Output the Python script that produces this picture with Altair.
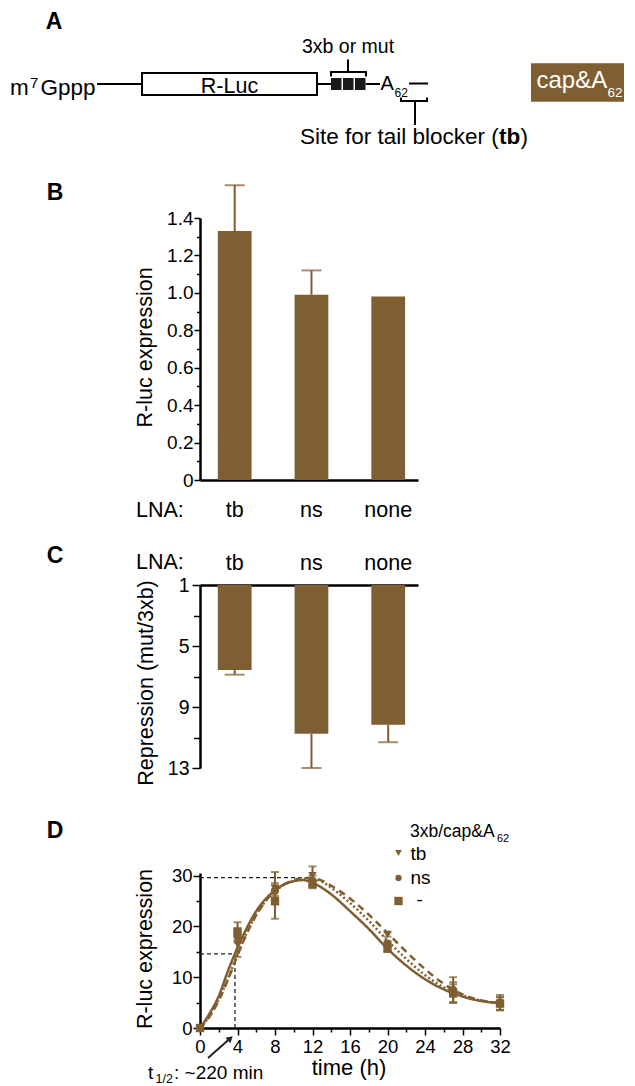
import altair as alt
import pandas as pd

BROWN = "#7f5e31"
FONT = "Liberation Sans"

# ---------------- data ----------------
# Panel B: R-luc expression with LNA
lna = ["tb", "ns", "none"]
b_expr = [1.33, 0.99, 0.98]
b_err = [0.245, 0.13, 0.0]

# Panel C: repression (mut/3xb)
c_rep = [6.57, 10.76, 10.17]
c_err = [0.31, 2.24, 1.14]

# Panel D: time course
series = ["tb", "ns", "-"]
d_time = [0, 4, 8, 12, 20, 27, 32]
d_tb = [0, 16.5, 27.5, 30.0, 18.4, 7.0, 4.8]
d_tb_err = [0, 2.5, 3.2, 1.8, 0.4, 2.0, 1.2]
d_ns = [0, 18.0, 27.0, 29.0, 16.6, 7.5, 5.0]
d_ns_err = [0, 1.2, 1.0, 1.0, 0.5, 2.5, 1.5]
d_mi = [0, 19.0, 25.0, 28.3, 15.6, 6.8, 4.8]
d_mi_err = [0, 1.8, 3.5, 0.8, 0.4, 1.8, 1.3]

curve_time = [0, 1, 2, 3, 4, 5, 6, 7, 8, 9, 10, 11, 12, 13, 14, 16, 18, 20, 22, 24, 26, 28, 30, 32]
curve_tb = [0, 2.2, 5.4, 9.6, 14.3, 18.6, 22.2, 25.0, 27.0, 28.3, 29.1, 29.5, 29.5, 29.0, 28.0,
            25.5, 22.3, 18.7, 15.0, 11.6, 8.7, 6.6, 5.4, 4.9]
curve_ns = [0, 2.3, 5.6, 9.8, 14.5, 18.8, 22.3, 25.0, 26.9, 28.2, 28.9, 29.3, 29.3, 28.8, 27.6,
            24.6, 21.1, 17.2, 13.6, 10.4, 8.0, 6.4, 5.4, 4.9]
curve_mi = [0, 2.8, 6.3, 11.3, 15.8, 19.7, 23.0, 25.4, 27.1, 28.3, 28.9, 29.1, 28.6, 27.6, 26.3,
            23.0, 19.5, 15.6, 12.3, 9.6, 7.6, 6.2, 5.3, 4.9]

peak_time, peak_val = 12, 29.6
half_time, half_val = 3.73, 14.6


# ---------------- helpers ----------------
def ptxt(x, y, s, size, weight="normal", align="left", baseline="alphabetic",
         color="black", angle=None):
    kw = dict(fontSize=size, fontWeight=weight, align=align, baseline=baseline, color=color)
    if angle is not None:
        kw["angle"] = angle
    return alt.Chart(pd.DataFrame({"s": [s]})).mark_text(**kw).encode(
        x=alt.value(x), y=alt.value(y), text="s:N")


xsA = alt.Scale(domain=[200, 620], nice=False, zero=False)
ysA = alt.Scale(domain=[10, 113], nice=False, zero=False, reverse=True)


def ax(f):
    return alt.X(f, scale=xsA, axis=None, title=None)


def ay(f):
    return alt.Y(f, scale=ysA, axis=None, title=None)


def atxt(x, y, s, size, weight="normal", align="left", color="black"):
    return alt.Chart(pd.DataFrame({"x": [x], "y": [y], "s": [s]})).mark_text(
        fontSize=size, fontWeight=weight, align=align, baseline="alphabetic", color=color
    ).encode(x=ax("x:Q"), y=ay("y:Q"), text="s:N")


# ---------------- panel A (schematic) ----------------
rl_box = pd.DataFrame({"x": [142], "x2": [317], "y": [73], "y2": [95]})
sites = pd.DataFrame({"x": [331, 343, 355], "x2": [341.5, 353.5, 365.5],
                      "y": [78, 78, 78], "y2": [90, 90, 90]})
cap_box = pd.DataFrame({"x": [531], "x2": [624], "y": [63.3], "y2": [101.7]})
segs = pd.DataFrame([
    (97, 84, 142, 84), (317, 84, 331, 84), (365.5, 84, 380, 84), (409, 83.5, 428, 83.5),
    (330, 72, 367, 72), (331, 72, 331, 76.5), (366, 72, 366, 76.5), (348, 59.5, 348, 72),
    (400, 101, 428, 101), (401, 101, 401, 97.5), (427, 101, 427, 97.5), (415, 101, 415, 125),
], columns=["x", "y", "x2", "y2"])

A_layers = [
    alt.Chart(segs).mark_rule(color="black", strokeWidth=2).encode(
        x=ax("x:Q"), y=ay("y:Q"), x2="x2:Q", y2="y2:Q"),
    alt.Chart(rl_box).mark_rect(fill="white", stroke="black", strokeWidth=2).encode(
        x=ax("x:Q"), y=ay("y:Q"), x2="x2:Q", y2="y2:Q"),
    alt.Chart(sites).mark_rect(color="#1a1a1a").encode(
        x=ax("x:Q"), y=ay("y:Q"), x2="x2:Q", y2="y2:Q"),
    alt.Chart(cap_box).mark_rect(color=BROWN).encode(
        x=ax("x:Q"), y=ay("y:Q"), x2="x2:Q", y2="y2:Q"),
    atxt(54, 29, "A", 23, weight="bold", align="center"),
    atxt(10, 95, "m", 22.5),
    atxt(30, 88.3, "7", 15),
    atxt(40.5, 95, "Gppp", 22.5),
    atxt(229.5, 92.5, "R-Luc", 21.5, align="center"),
    atxt(348, 53.3, "3xb or mut", 19.5, align="center"),
    atxt(380.5, 90, "A", 20),
    atxt(394.5, 97, "62", 12),
    atxt(300, 144, "Site for tail blocker (", 22.5),
    atxt(509.6, 144, "tb", 22.5, weight="bold", align="center"),
    atxt(528, 144, ")", 22.5, align="right"),
    atxt(536.5, 88, "cap&A", 24, color="white"),
    atxt(607.5, 97, "62", 13.5, color="white"),
]
panelA = alt.layer(*A_layers).properties(width=420, height=103)

# ---------------- panel B ----------------
dfB = pd.DataFrame({"lna": lna, "v": b_expr, "err": b_err})
dfB["hi"] = dfB["v"] + dfB["err"]
dfB_err = dfB[dfB["err"] > 0]

band = alt.Scale(paddingInner=0.56, paddingOuter=0.2, align=0.58)
xB = alt.X("lna:N", sort=lna, title=None, scale=band,
           axis=alt.Axis(labelAngle=0, ticks=False, tickSize=0, domainWidth=2.5,
                         domainColor="black", labelFontSize=21.5, labelColor="black",
                         labelPadding=36, labelBaseline="alphabetic"))
ysB = alt.Scale(domain=[0, 1.4], nice=False)
yB = alt.Y("v:Q", title=None, scale=ysB,
           axis=alt.Axis(values=[round(i * 0.1, 1) for i in range(15)], tickCount=100,
                         labelExpr="round(datum.value*10)%2==0 ? (datum.value==0 ? '0' : format(datum.value,'.1f')) : ''",
                         tickSize={"condition": {"test": "round(datum.value*10)%2==0", "value": 6}, "value": 3.5},
                         tickWidth=1.5, tickColor="black", domainWidth=2.5, domainColor="black",
                         labelFontSize=19, labelPadding=1, labelColor="black", grid=False,
                         labelOverlap=False, labelFlush=False))

panelB = alt.layer(
    alt.Chart(dfB).mark_bar(color=BROWN).encode(x=xB, y=yB),
    alt.Chart(dfB_err).mark_rule(color=BROWN, strokeWidth=2).encode(
        x=alt.X("lna:N", sort=lna, title=None), y=alt.Y("v:Q", title=None), y2="hi:Q"),
    alt.Chart(dfB_err).mark_tick(color=BROWN, size=20, thickness=2, orient="horizontal").encode(
        x=alt.X("lna:N", sort=lna, title=None), y=alt.Y("hi:Q", title=None)),
    ptxt(-145, -18, "B", 23, weight="bold", align="center"),
    ptxt(-54, 129.4, "R-luc expression", 21.5, align="center", baseline="middle", angle=270),
    ptxt(-64, 298.7, "LNA:", 21.5),
).properties(width=218, height=262)

# ---------------- panel C ----------------
dfC = pd.DataFrame({"lna": lna, "v": c_rep, "err": c_err})
dfC["hi"] = dfC["v"] + dfC["err"]

xC = alt.X("lna:N", sort=lna, title=None, scale=band,
           axis=alt.Axis(orient="top", labelAngle=0, ticks=False, tickSize=0, domainWidth=2.5,
                         domainColor="black", labelFontSize=21.5, labelColor="black",
                         labelPadding=16, labelBaseline="alphabetic"))
yC = alt.Y("v:Q", title=None,
           scale=alt.Scale(domain=[1, 13], nice=False, zero=False, reverse=True),
           axis=alt.Axis(values=[1, 3, 5, 7, 9, 11, 13], tickCount=100,
                         labelExpr="(datum.value-1)%4==0 ? format(datum.value,'d') : ''",
                         tickSize={"condition": {"test": "(datum.value-1)%4==0", "value": 8}, "value": 6.5},
                         tickWidth=1.5, tickColor="black", domainWidth=2.5, domainColor="black",
                         labelFontSize=19.5, labelPadding=3, labelColor="black", grid=False,
                         labelOverlap=False, labelFlush=False))

panelC = alt.layer(
    alt.Chart(dfC).mark_bar(color=BROWN).encode(x=xC, y=yC, y2=alt.datum(1)),
    alt.Chart(dfC).mark_rule(color=BROWN, strokeWidth=2).encode(
        x=alt.X("lna:N", sort=lna, title=None), y=alt.Y("v:Q", title=None), y2="hi:Q"),
    alt.Chart(dfC).mark_tick(color=BROWN, size=20, thickness=2, orient="horizontal").encode(
        x=alt.X("lna:N", sort=lna, title=None), y=alt.Y("hi:Q", title=None)),
    ptxt(-145, -22, "C", 23, weight="bold", align="center"),
    ptxt(-53, 98, "Repression (mut/3xb)", 21.5, align="center", baseline="middle", angle=270),
    ptxt(-64, -16, "LNA:", 21.5),
).properties(width=218, height=183)

# ---------------- panel D ----------------
pts = pd.concat([
    pd.DataFrame({"t": d_time, "v": d_tb, "err": d_tb_err, "series": "tb"}),
    pd.DataFrame({"t": d_time, "v": d_ns, "err": d_ns_err, "series": "ns"}),
    pd.DataFrame({"t": d_time, "v": d_mi, "err": d_mi_err, "series": "-"}),
])
pts["lo"] = pts["v"] - pts["err"]
pts["hi"] = pts["v"] + pts["err"]
pts_err = pts[pts["err"] > 0]

curves = pd.concat([
    pd.DataFrame({"t": curve_time, "v": curve_tb, "series": "tb"}),
    pd.DataFrame({"t": curve_time, "v": curve_ns, "series": "ns"}),
    pd.DataFrame({"t": curve_time, "v": curve_mi, "series": "-"}),
])

refs = pd.DataFrame({
    "t": [0, 0, half_time],
    "t2": [peak_time, half_time, half_time],
    "v": [peak_val, half_val, 0],
    "v2": [peak_val, half_val, half_val],
})

xsD = alt.Scale(domain=[0, 32], nice=False, zero=False)
ysD = alt.Scale(domain=[0, 30.5], nice=False, zero=False)
xD = alt.X("t:Q", title=None, scale=xsD,
           axis=alt.Axis(values=list(range(0, 33, 2)), tickCount=100,
                         labelExpr="datum.value%4==0 ? format(datum.value,'d') : ''",
                         tickSize={"condition": {"test": "datum.value%4==0", "value": 7}, "value": 4},
                         tickWidth=1.5, tickColor="black", domainWidth=2.5, domainColor="black",
                         labelFontSize=18.5, labelPadding=2, labelColor="black", grid=False,
                         labelOverlap=False, labelFlush=False))
yD = alt.Y("v:Q", title=None, scale=ysD,
           axis=alt.Axis(values=list(range(0, 31, 5)), tickCount=100,
                         labelExpr="datum.value%10==0 ? format(datum.value,'d') : ''",
                         tickSize={"condition": {"test": "datum.value%10==0", "value": 7}, "value": 4},
                         tickWidth=1.5, tickColor="black", domainWidth=2.5, domainColor="black",
                         labelFontSize=18.5, labelPadding=1, labelColor="black", grid=False,
                         labelOverlap=False, labelFlush=False))
xDp = alt.X("t:Q", title=None)
yDp = alt.Y("v:Q", title=None)

dash_scale = alt.Scale(domain=series, range=[[7, 5], [2, 2.5], [1, 0]])
shape_scale = alt.Scale(domain=series, range=["triangle-down", "circle", "square"])

legend_layers = [
    ptxt(210, -36, "3xb/cap&A", 17.5),
    ptxt(297, -31, "62", 11),
]
leg_pos = {"tb": (-20, -13), "ns": (5, 11), "-": (28, 33)}
leg_shape = {"tb": ("triangle-down", 45), "ns": ("circle", 40), "-": ("square", 70)}
for s in series:
    sy, ty = leg_pos[s]
    shp, sz = leg_shape[s]
    legend_layers.append(
        alt.Chart(pd.DataFrame({"k": [s]})).mark_point(
            shape=shp, filled=True, size=sz, color=BROWN, opacity=1
        ).encode(x=alt.value(198.5), y=alt.value(sy)))
    legend_layers.append(ptxt(216.5 if s == "-" else 210.5, ty, s, 19))

panelD = alt.layer(
    alt.Chart(refs).mark_rule(color="#222222", strokeWidth=1.3, strokeDash=[4, 3]).encode(
        x=xD, y=yD, x2="t2:Q", y2="v2:Q"),
    alt.Chart(curves).mark_line(color=BROWN, strokeWidth=2.5, interpolate="monotone").encode(
        x=xDp, y=yDp,
        strokeDash=alt.StrokeDash("series:N", scale=dash_scale, legend=None)),
    alt.Chart(pts_err).mark_rule(color=BROWN, strokeWidth=2).encode(
        x=xDp, y=alt.Y("lo:Q", title=None), y2="hi:Q"),
    alt.Chart(pts_err).mark_tick(color=BROWN, size=8, thickness=2, orient="horizontal").encode(
        x=xDp, y=alt.Y("lo:Q", title=None)),
    alt.Chart(pts_err).mark_tick(color=BROWN, size=8, thickness=2, orient="horizontal").encode(
        x=xDp, y=alt.Y("hi:Q", title=None)),
    alt.Chart(pts).mark_point(filled=True, opacity=1, size=70, color=BROWN).encode(
        x=xDp, y=yDp,
        shape=alt.Shape("series:N", scale=shape_scale, legend=None)),
    ptxt(-145, -35, "D", 23, weight="bold", align="center"),
    ptxt(-54, 76, "R-luc expression", 21.5, align="center", baseline="middle", angle=270),
    ptxt(149, 202, "time (h)", 22, align="center"),
    ptxt(-52, 206, "t", 19),
    ptxt(-44.5, 210, "1/2", 12.5),
    ptxt(-26, 206, ": ~220 min", 19),
    alt.Chart(pd.DataFrame({"k": [0]})).mark_rule(color="#222222", strokeWidth=2).encode(
        x=alt.value(8), x2=alt.value(30), y=alt.value(185), y2=alt.value(165.5)),
    alt.Chart(pd.DataFrame({"k": [0]})).mark_point(
        shape="triangle", angle=48, filled=True, size=55, color="#222222", opacity=1
    ).encode(x=alt.value(29.5), y=alt.value(166)),
    *legend_layers,
).properties(width=300, height=155)

chart = alt.vconcat(panelA, panelB, panelC, panelD, spacing=105, bounds="flush").properties(
    padding={"left": 2, "top": 2, "right": 0, "bottom": 2}
).configure(font=FONT).configure_view(stroke=None)

chart.save("out.html", embed_options={"renderer": "svg", "actions": False})
